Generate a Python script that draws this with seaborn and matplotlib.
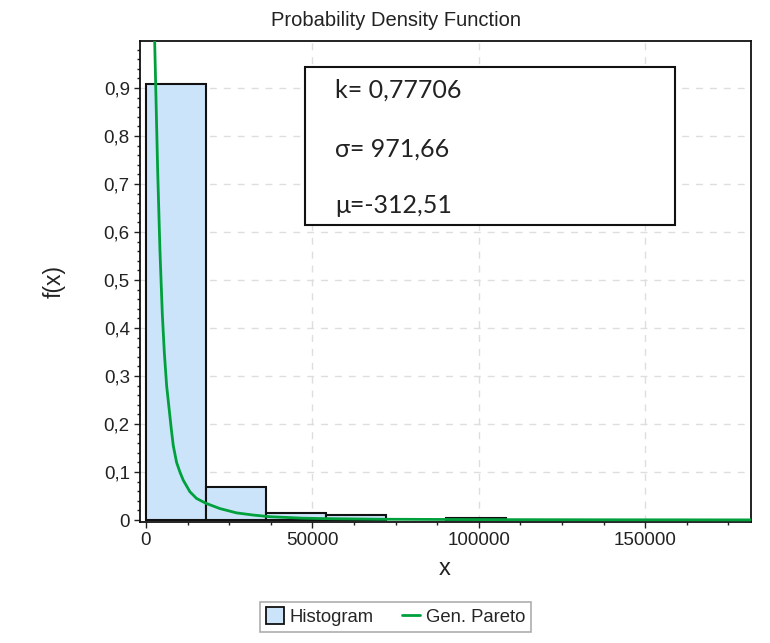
import numpy as np
import pandas as pd
import matplotlib
matplotlib.use('Agg')
import matplotlib.pyplot as plt
from matplotlib.patches import Patch, Rectangle
from matplotlib.lines import Line2D
from matplotlib.ticker import MultipleLocator
import seaborn as sns

# ---------------- data ----------------
bin_edges = [0, 18050, 36100, 54150, 72200, 90250, 108300]
bin_heights = [0.908, 0.068, 0.014, 0.010, 0.0, 0.004]

curve_x = [2600, 3100, 3500, 4200, 4900, 5500, 6200, 6900, 7600, 8200, 9200,
           10200, 11200, 13200, 15200, 18000, 22200, 27200, 32200, 37200, 47000,
           54000, 70000, 100000, 140000, 182000]
curve_y = [1.00, 0.85, 0.73, 0.56, 0.43, 0.35, 0.28, 0.235, 0.19, 0.155, 0.12,
           0.10, 0.083, 0.059, 0.045, 0.035, 0.024, 0.015, 0.0105, 0.007, 0.004,
           0.003, 0.0018, 0.001, 0.0006, 0.0004]

y_ticks = [0, 0.1, 0.2, 0.3, 0.4, 0.5, 0.6, 0.7, 0.8, 0.9]
y_tick_labels = ['0', '0,1', '0,2', '0,3', '0,4', '0,5', '0,6', '0,7', '0,8', '0,9']
x_ticks = [0, 50000, 100000, 150000]
x_tick_labels = ['0', '50000', '100000', '150000']

param_lines = ['k= 0,77706', 'σ= 971,66', 'μ=-312,51']
title_text = 'Probability Density Function'
x_label = 'x'
y_label = 'f(x)'
legend_labels = ['Histogram', 'Gen. Pareto']

# ---------------- style ----------------
sns.set_style('ticks')
plt.rcParams['font.family'] = ['Liberation Sans', 'DejaVu Sans']
plt.rcParams['axes.grid'] = False

BAR_COLOR = '#cce4fa'
LINE_COLOR = '#00a03c'
GRID_COLOR = '#dedede'

W, H = 770, 643
fig = plt.figure(figsize=(W / 100, H / 100), dpi=100)
ax_l, ax_r, ax_t, ax_b = 139.5, 751, 41, 522
ax = fig.add_axes([ax_l / W, 1 - ax_b / H, (ax_r - ax_l) / W, (ax_b - ax_t) / H])
ax.grid(False)

centers = [(a + b) / 2 for a, b in zip(bin_edges[:-1], bin_edges[1:])]
df_hist = pd.DataFrame({'x': centers, 'w': bin_heights})
sns.histplot(data=df_hist, x='x', weights='w', bins=bin_edges, stat='count',
             color=BAR_COLOR, edgecolor='#111111', linewidth=1.5, alpha=1,
             ax=ax)
for p in ax.patches:
    p.set_zorder(2)
    if p.get_height() == 0:
        p.set_visible(False)

df_curve = pd.DataFrame({'x': curve_x, 'y': curve_y})
sns.lineplot(data=df_curve, x='x', y='y', color=LINE_COLOR, linewidth=2,
             ax=ax, zorder=3, estimator=None)

ax.set_xlim(-1950, 181800)
ax.set_ylim(-0.004, 0.998)
ax.set_xticks(x_ticks, labels=x_tick_labels)
ax.set_yticks(y_ticks, labels=y_tick_labels)
ax.xaxis.set_minor_locator(MultipleLocator(12500))
ax.yaxis.set_minor_locator(MultipleLocator(0.02))
ax.tick_params(which='major', direction='out', length=4, width=1, labelsize=13.5,
               colors='#222222', pad=3)
ax.tick_params(which='minor', direction='out', length=2.5, width=1, colors='#222222')

# dashed grid at the major tick positions only
for xv in x_ticks[1:]:
    ax.axvline(xv, linestyle=(0, (5, 5)), color=GRID_COLOR, linewidth=1, zorder=0.5)
for yv in y_ticks[1:]:
    ax.axhline(yv, linestyle=(0, (5, 5)), color=GRID_COLOR, linewidth=1, zorder=0.5)

ax.set_xlabel('')
ax.set_ylabel('')
for s in ax.spines.values():
    s.set_visible(True)
    s.set_color('#111111')
    s.set_linewidth(1.3)

# parameter text box
aw, ah = ax_r - ax_l, ax_b - ax_t
def ax_xy(px, py):
    return (px - ax_l) / aw, 1 - (py - ax_t) / ah

bx0, by0 = ax_xy(305, 225)
bx1, by1 = ax_xy(675, 66.7)
ax.add_patch(Rectangle((bx0, by0), bx1 - bx0, by1 - by0, transform=ax.transAxes,
                       facecolor='white', edgecolor='#111111', linewidth=1.5, zorder=5))
for txt, base in zip(param_lines, [98, 156.7, 213]):
    tx, ty = ax_xy(335, base)
    ax.text(tx, ty, txt, transform=ax.transAxes, ha='left', va='baseline',
            fontsize=18, family=['Lato', 'DejaVu Sans'], color='#222222', zorder=6)

# title and labels
fig.text(396 / W, 1 - 20 / H, title_text, ha='center', va='center', fontsize=14.5,
         color='#222222')
fig.text(445 / W, 1 - 569 / H, x_label, ha='center', va='center', fontsize=17,
         color='#222222')
fig.text(54 / W, 1 - 282 / H, y_label, ha='center', va='center', fontsize=16.5,
         rotation=90, color='#222222')

handles = [Patch(facecolor=BAR_COLOR, edgecolor='#111111', linewidth=1.3),
           Line2D([0], [0], color=LINE_COLOR, linewidth=2)]
leg = fig.legend(handles, legend_labels, loc='center', bbox_to_anchor=(395.5 / W, 1 - 616.7 / H),
                 ncol=2, frameon=True, fancybox=False, fontsize=13.3, handlelength=1.0,
                 handleheight=1.0, handletextpad=0.3, columnspacing=1.5,
                 borderpad=0.3, edgecolor='#999999')
leg.get_frame().set_linewidth(1.2)

fig.savefig('out.png', dpi=100)
